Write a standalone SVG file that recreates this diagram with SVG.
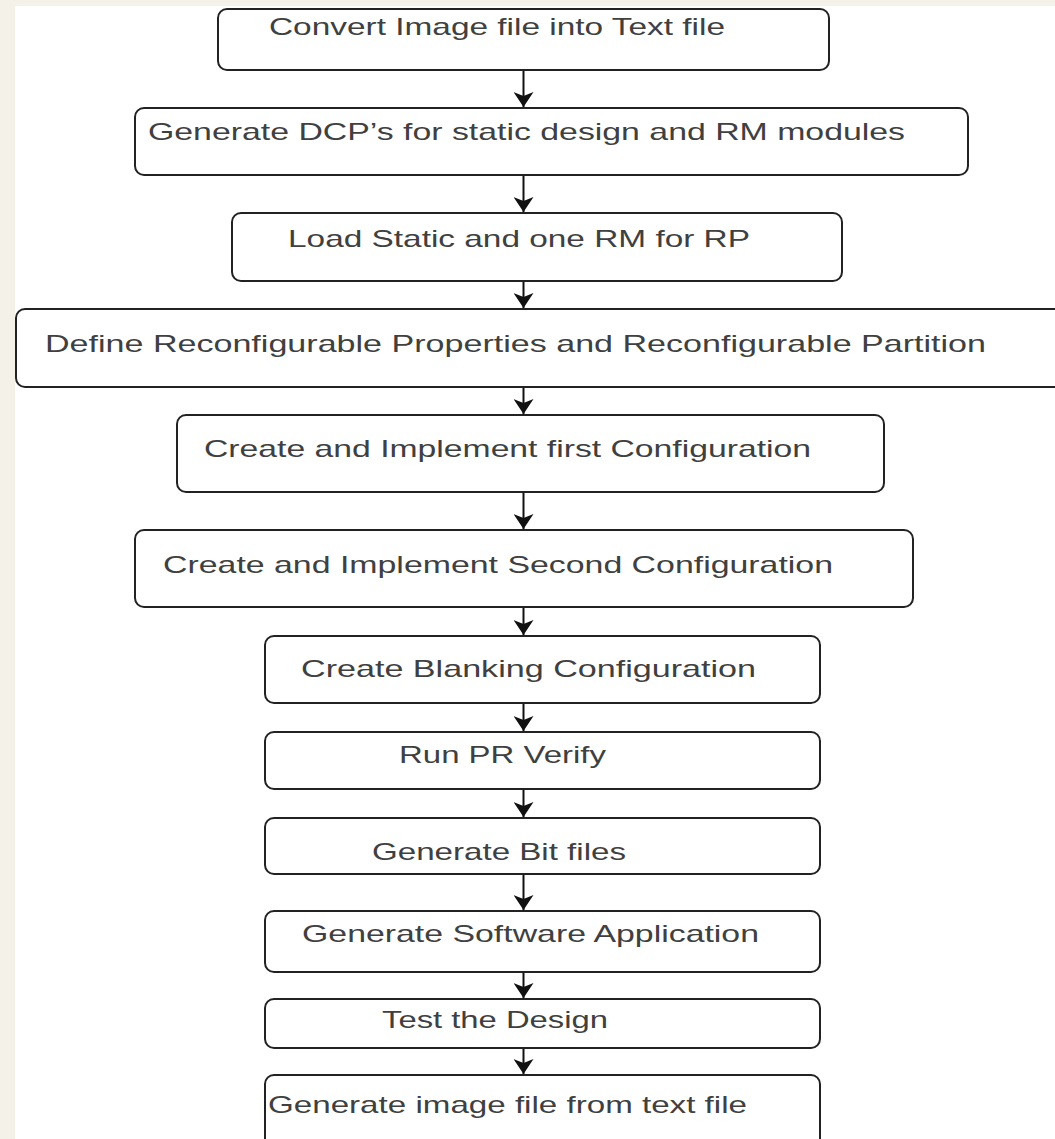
<svg xmlns="http://www.w3.org/2000/svg" width="1055" height="1139" viewBox="0 0 1055 1139">
<defs>
<style>
.box{fill:#ffffff;stroke:#222222;stroke-width:2}
.lbl{font-family:"Liberation Sans",Arial,sans-serif;font-size:24px;fill:#404040}
.conn{stroke:#111111;stroke-width:2;fill:none}
</style>
<marker id="ah" viewBox="0 0 15 20" refX="15" refY="10" markerWidth="15" markerHeight="20" markerUnits="userSpaceOnUse" orient="auto">
<path d="M0,0 L15,10 L0,20 L4,10 Z" fill="#111111"/>
</marker>
</defs>
<rect x="0" y="0" width="1055" height="1139" fill="#f4f2e8"/>
<rect x="15" y="6" width="1040" height="1133" fill="#ffffff"/>
<g id="connectors">
<path class="conn" d="M523.5,70 V107" marker-end="url(#ah)"/>
<path class="conn" d="M523.5,175 V212" marker-end="url(#ah)"/>
<path class="conn" d="M523.5,281 V308" marker-end="url(#ah)"/>
<path class="conn" d="M523.5,387 V414" marker-end="url(#ah)"/>
<path class="conn" d="M523.5,492 V529" marker-end="url(#ah)"/>
<path class="conn" d="M523.5,607 V635" marker-end="url(#ah)"/>
<path class="conn" d="M523.5,703 V731" marker-end="url(#ah)"/>
<path class="conn" d="M523.5,789 V817" marker-end="url(#ah)"/>
<path class="conn" d="M523.5,874 V910" marker-end="url(#ah)"/>
<path class="conn" d="M523.5,972 V998" marker-end="url(#ah)"/>
<path class="conn" d="M523.5,1048 V1074" marker-end="url(#ah)"/>
</g>
<g id="n1"><rect class="box" x="218" y="9" width="611" height="61" rx="9"/><text class="lbl" x="269" y="35" textLength="456" lengthAdjust="spacingAndGlyphs">Convert Image file into Text file</text></g>
<g id="n2"><rect class="box" x="135" y="108" width="833" height="67" rx="9"/><text class="lbl" x="148" y="140" textLength="757" lengthAdjust="spacingAndGlyphs">Generate DCP’s for static design and RM modules</text></g>
<g id="n3"><rect class="box" x="232" y="213" width="610" height="68" rx="9"/><text class="lbl" x="288" y="247" textLength="462" lengthAdjust="spacingAndGlyphs">Load Static and one RM for RP</text></g>
<g id="n4"><rect class="box" x="16" y="309" width="1060" height="78" rx="9"/><text class="lbl" x="45" y="352" textLength="941" lengthAdjust="spacingAndGlyphs">Define Reconfigurable Properties and Reconfigurable Partition</text></g>
<g id="n5"><rect class="box" x="177" y="415" width="707" height="77" rx="9"/><text class="lbl" x="204" y="457" textLength="607" lengthAdjust="spacingAndGlyphs">Create and Implement first Configuration</text></g>
<g id="n6"><rect class="box" x="135" y="530" width="778" height="77" rx="9"/><text class="lbl" x="163" y="573" textLength="670" lengthAdjust="spacingAndGlyphs">Create and Implement Second Configuration</text></g>
<g id="n7"><rect class="box" x="265" y="636" width="555" height="67" rx="9"/><text class="lbl" x="301" y="677" textLength="455" lengthAdjust="spacingAndGlyphs">Create Blanking Configuration</text></g>
<g id="n8"><rect class="box" x="265" y="732" width="555" height="57" rx="9"/><text class="lbl" x="399" y="763" textLength="207" lengthAdjust="spacingAndGlyphs">Run PR Verify</text></g>
<g id="n9"><rect class="box" x="265" y="818" width="555" height="56" rx="9"/><text class="lbl" x="372" y="860" textLength="254" lengthAdjust="spacingAndGlyphs">Generate Bit files</text></g>
<g id="n10"><rect class="box" x="265" y="911" width="555" height="61" rx="9"/><text class="lbl" x="302" y="942" textLength="457" lengthAdjust="spacingAndGlyphs">Generate Software Application</text></g>
<g id="n11"><rect class="box" x="265" y="999" width="555" height="49" rx="9"/><text class="lbl" x="382" y="1028" textLength="226" lengthAdjust="spacingAndGlyphs">Test the Design</text></g>
<g id="n12"><rect class="box" x="265" y="1075" width="555" height="80" rx="9"/><text class="lbl" x="268" y="1113" textLength="479" lengthAdjust="spacingAndGlyphs">Generate image file from text file</text></g>
</svg>
